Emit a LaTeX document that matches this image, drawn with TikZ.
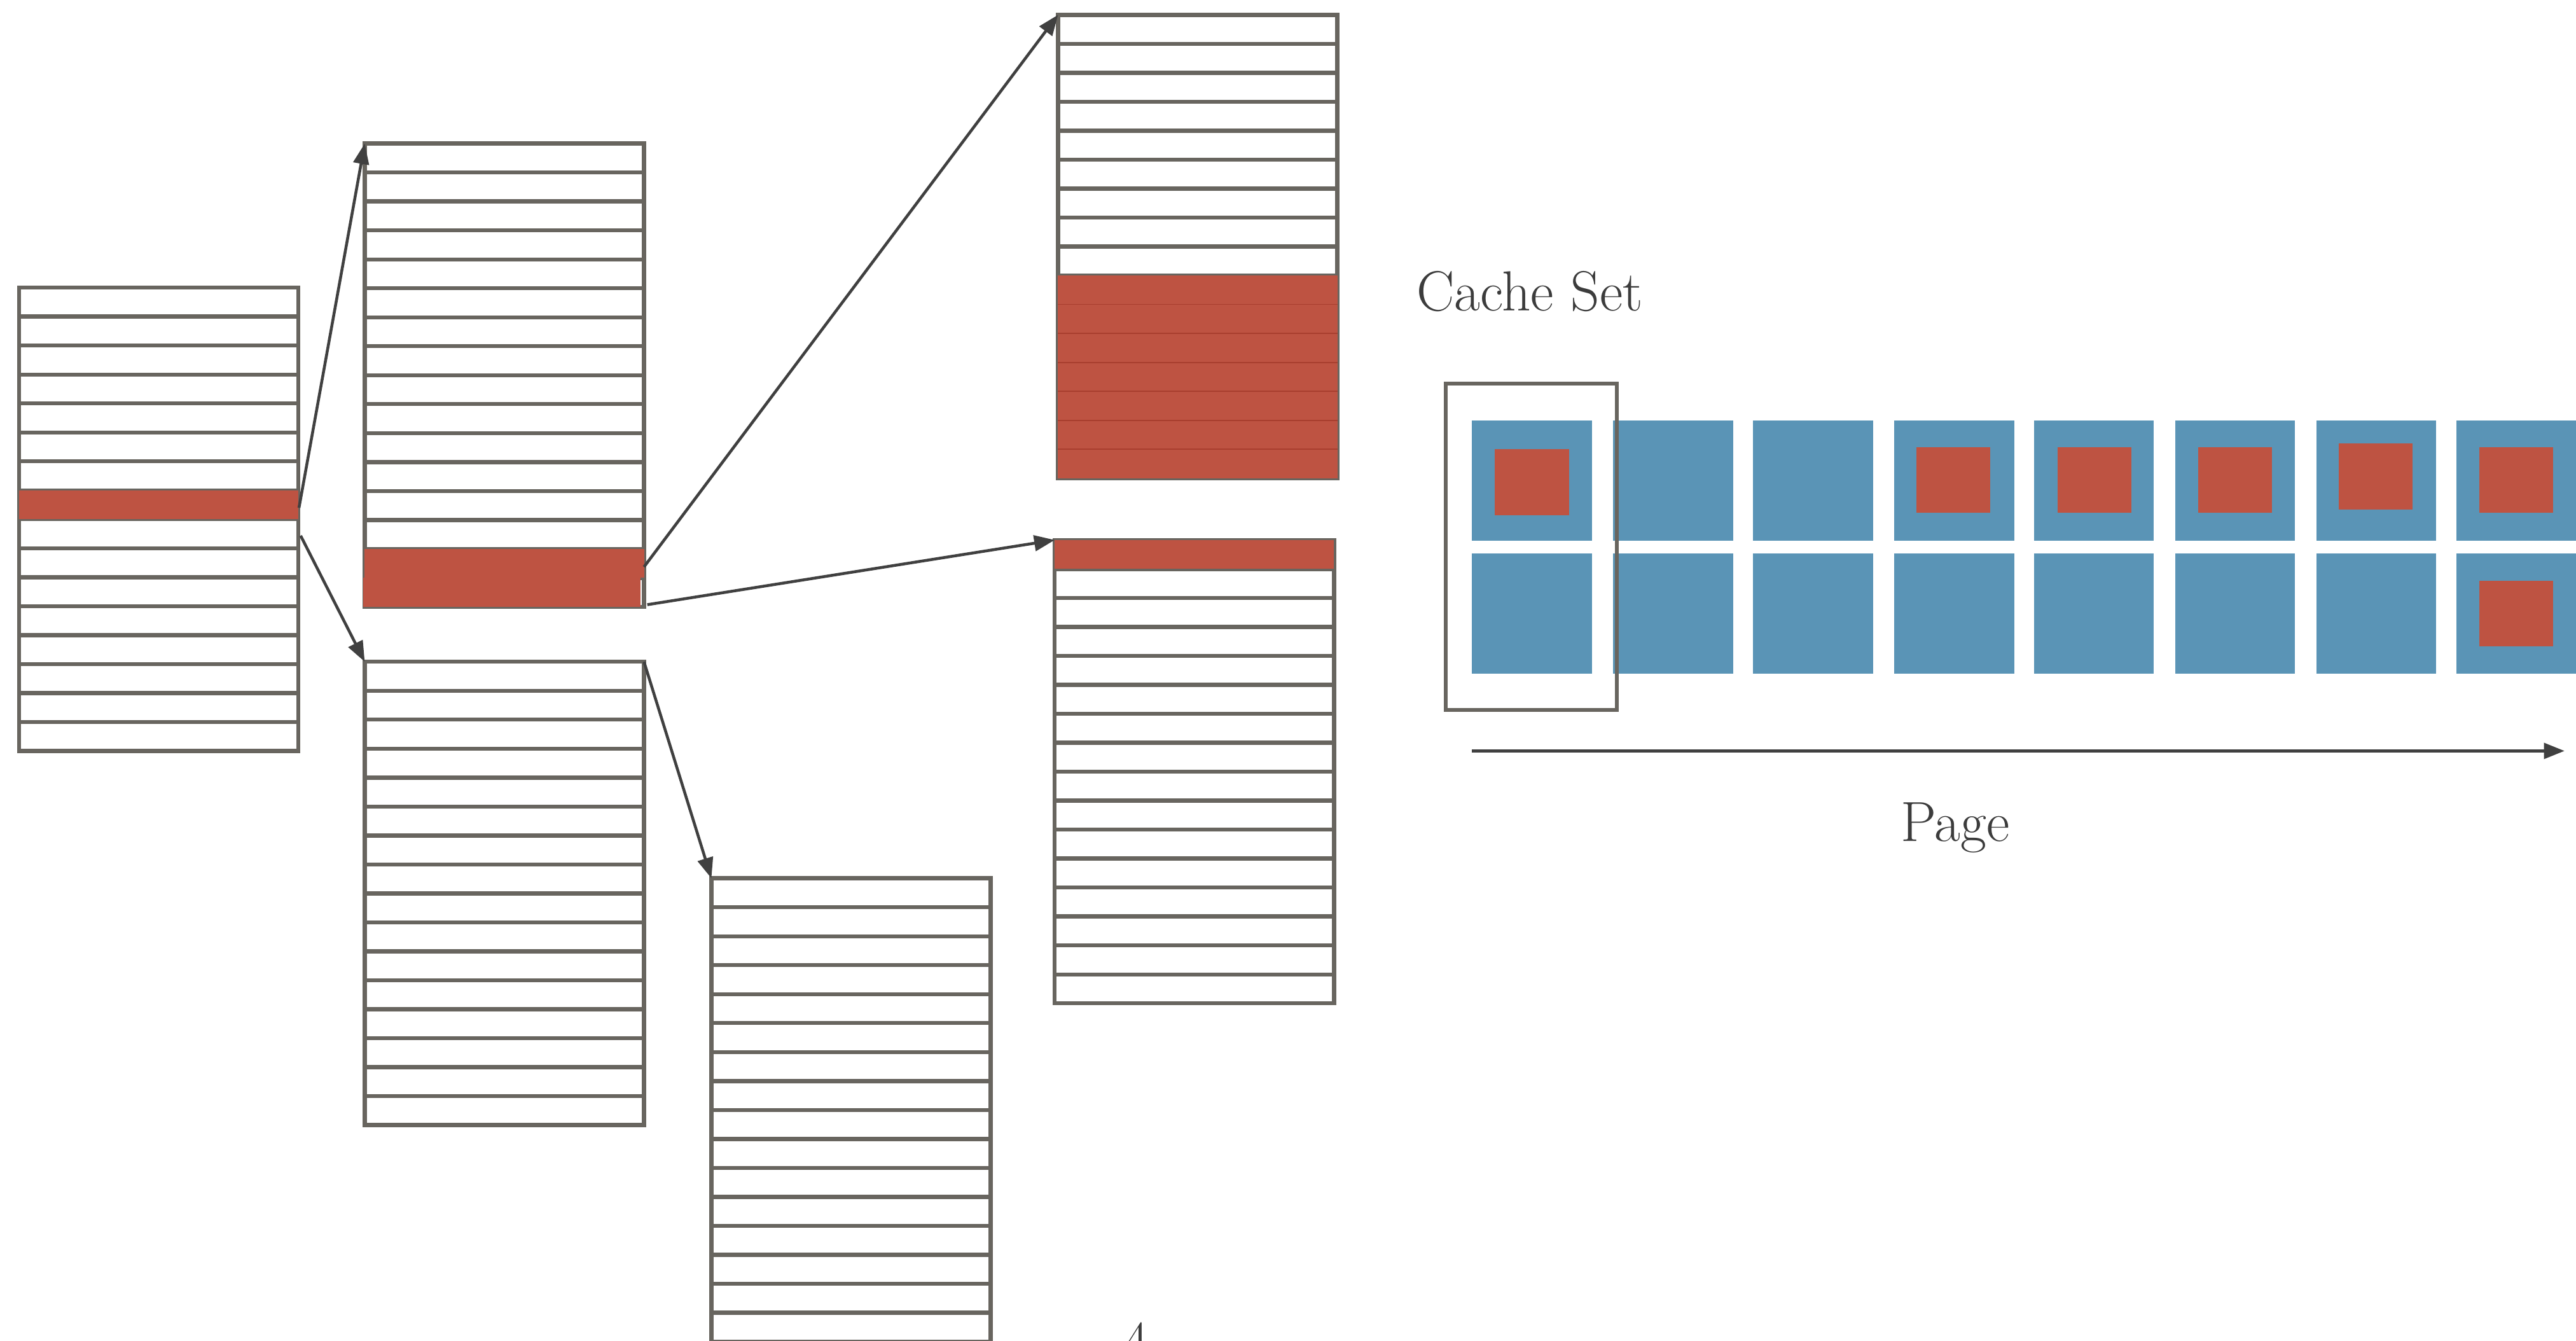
\documentclass[tikz,border=0pt]{standalone}
\usetikzlibrary{arrows.meta,calc}
\definecolor{lgrey}{RGB}{104,101,95}
\definecolor{cred}{RGB}{190,83,66}
\definecolor{credd}{RGB}{168,62,46}
\definecolor{cblue}{RGB}{90,148,182}
\definecolor{arr}{RGB}{64,64,64}
\definecolor{txt}{RGB}{60,60,60}
\tikzset{
 stackbox/.style={minimum width=3.4cm, minimum height=5.64cm, inner sep=0pt, outer sep=0pt},
 rowbox/.style={draw=lgrey, line width=1.4pt, fill=white},
 conn/.style={draw=arr, line width=1pt, -{Triangle[length=0.25cm,width=0.19cm]}},
 pagebox/.style={fill=cblue, minimum width=1.46cm, minimum height=1.46cm, inner sep=0pt, outer sep=0pt},
 hitbox/.style={fill=cred, minimum width=0.9cm, minimum height=0.8cm, inner sep=0pt, outer sep=0pt},
 setbox/.style={draw=lgrey, line width=1.3pt, minimum width=2.08cm, minimum height=3.97cm, inner sep=0pt, outer sep=0pt},
 lbl/.style={text=txt, font=\fontsize{19.6}{23}\selectfont, inner sep=0pt},
}
\newcommand{\memrows}[1]{\foreach \i in {0,...,15}{\draw[rowbox] ($(#1.north west)+(0,\i*17.625)$) rectangle ++(170,17.625);}}
\newcommand{\redrow}[2]{\fill[cred] ($(#1.north west)+(0,#2*17.625)$) rectangle ++(170,17.625);}
\begin{document}
\begin{tikzpicture}[x=0.02cm,y=-0.02cm]
\useasboundingbox (0,0) rectangle (1568,816);
\clip (0,0) rectangle (1568,816);
% stacks
\node[stackbox] (A) at (96.6,316) {};
\node[stackbox] (B) at (307,228.3) {};
\node[stackbox] (C) at (307,543.7) {};
\node[stackbox] (D) at (518,675.5) {};
\node[stackbox] (E) at (729,150) {};
\node[stackbox] (F) at (727,469.6) {};
\memrows{A}
\memrows{B}
\memrows{C}
\memrows{D}
\memrows{E}
\memrows{F}
% highlighted rows
\redrow{A}{7}
\redrow{B}{14}
\fill[cred] ($(B.north west)+(-1,15*17.625)$) rectangle ++(169,17.625);
\foreach \r in {9,...,15}{\redrow{E}{\r}}
\foreach \r in {10,...,15}{\draw[credd, line width=0.4pt] ($(E.north west)+(0,\r*17.625)$) -- ++(170,0);}
\redrow{F}{0}
% connectors
\coordinate (a1) at (182,309);
\coordinate (a2) at (183,326);
\coordinate (b1) at (392,345);
\coordinate (b2) at (394,368);
\draw[conn] (a1) -- (B.north west);
\draw[conn] (a2) -- (C.north west);
\draw[conn] (b1) -- (E.north west);
\draw[conn] (b2) -- (F.north west);
\draw[conn] (C.north east) -- (D.north west);
% cache set grid
\foreach \c [count=\k from 0] in {896,982,1067,1153,1238,1324,1410,1495}{
  \node[pagebox] (pa\k) at ({\c+36.5},292.5) {};
  \node[pagebox] (pb\k) at ({\c+36.5},373.5) {};
}
\node[hitbox] (h0) at (932.5,293.5) {};
\node[hitbox] (h3) at (1189,292) {};
\node[hitbox] (h4) at (1275,292) {};
\node[hitbox] (h5) at (1360.5,292) {};
\node[hitbox] (h6) at (1446,290) {};
\node[hitbox] (h7) at (1531.5,292) {};
\node[hitbox] (h8) at (1531.5,373.5) {};
\node[setbox] (cs) at (932,332.75) {};
% page axis
\coordinate (ps) at (896,457);
\coordinate (pe) at (1561,457);
\draw[conn] (ps) -- (pe);
% labels
\node[lbl, anchor=base west] (cst) at (862,189) {Cache Set};
\node[lbl, anchor=base] (pg) at (1190,512) {Page};
\node[lbl, anchor=base west] (pnum) at (683,828) {4};
\end{tikzpicture}
\end{document}
